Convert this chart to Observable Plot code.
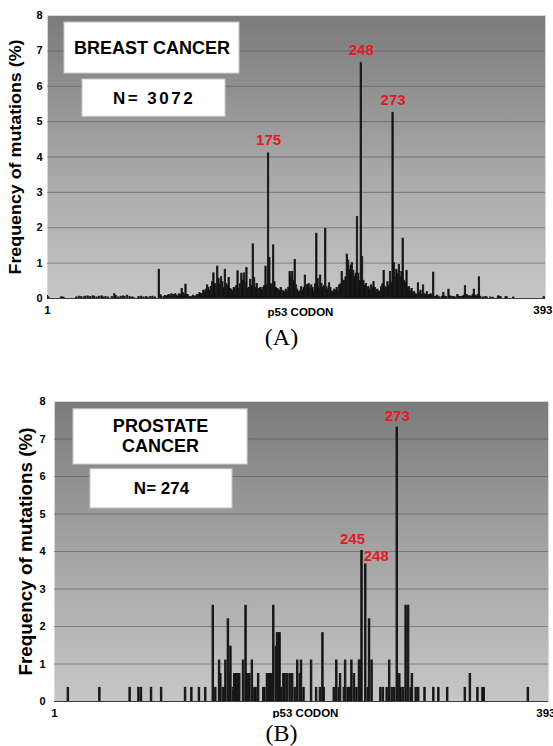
<!DOCTYPE html>
<html><head><meta charset="utf-8">
<script src="https://cdn.jsdelivr.net/npm/d3@7"></script>
<script src="https://cdn.jsdelivr.net/npm/@observablehq/plot@0.6"></script>
<style>
html,body{margin:0;padding:0;background:#fff}
body{position:relative;width:553px;height:746px;overflow:hidden;font-family:"Liberation Sans",Arial,Helvetica,sans-serif}
#a{position:absolute;left:0;top:0}
#b{position:absolute;left:0;top:380px}
.cap{position:absolute;left:0;width:563px;text-align:center;font-family:"Liberation Serif","Times New Roman",serif;font-size:24px;line-height:24px;color:#000}
#capA{top:325px}
#capB{top:721px}
svg{overflow:hidden}
</style></head><body>
<div id="a"></div><div class="cap" id="capA">(A)</div>
<div id="b"></div><div class="cap" id="capB">(B)</div>
<script>
// ---------- data ----------
// Panel A: breast cancer, frequency (%) of p53 mutations at codons 1..393 (N = 3072)
const freqA = [
  0.07,0.03,0,0,0,0,0,0,0,0,
  0,0.03,0.03,0.02,0,0,0,0,0,0,
  0,0,0,0.03,0,0.05,0,0.04,0,0.03,
  0.05,0,0.06,0,0.04,0,0.06,0.05,0,0.03,
  0,0.05,0,0.06,0.03,0,0.04,0,0.03,0,
  0,0.04,0,0.12,0.07,0,0.03,0,0.05,0,
  0.06,0.04,0,0.08,0,0.04,0,0.03,0.02,0,
  0,0,0.04,0,0.05,0,0.03,0,0.04,0.02,
  0,0.04,0,0.05,0,0.03,0,0,0.81,0.1,
  0.06,0,0.04,0.07,0.05,0.08,0.1,0.06,0.12,0.08,
  0.1,0.12,0.08,0.05,0.12,0.1,0.27,0.15,0.1,0.39,
  0.1,0.09,0.04,0.03,0.05,0.08,0.04,0.06,0.09,0.1,
  0.15,0.12,0.13,0.22,0.2,0.25,0.37,0.3,0.22,0.33,
  0.46,0.71,0.41,0.35,0.9,0.55,0.4,0.6,0.46,0.3,
  0.81,0.41,0.35,0.58,0.27,0.25,0.2,0.3,0.27,0.35,
  0.77,0.27,0.4,0.7,0.5,0.71,0.45,0.86,0.27,0.3,
  0.53,0.35,1.53,0.58,0.3,0.41,0.25,0.27,0.3,0.24,
  0.3,0.35,0.9,0.37,4.1,1.15,0.41,0.35,1.5,0.46,
  0.3,0.27,0.25,0.22,0.3,0.22,0.2,0.18,0.25,0.18,
  0.3,0.75,0.6,0.75,0.5,1.09,0.37,0.25,0.18,0.2,
  0.32,0.22,0.3,0.65,0.37,0.37,0.41,0.25,0.37,0.3,
  0.2,0.4,1.83,0.55,0.3,0.65,0.41,0.3,0.35,1.97,
  0.32,0.25,0.43,0.3,0.2,0.18,0.25,0.22,0.3,0.2,
  0.37,0.4,0.75,0.5,0.5,0.6,1.24,1.07,0.8,0.93,
  1.0,0.78,0.6,0.7,2.3,0.7,0.5,6.65,1.17,0.5,
  0.35,0.41,0.3,0.32,0.25,0.37,0.3,0.46,0.3,0.22,
  0.25,0.18,0.2,0.32,0.4,0.78,0.32,0.3,0.46,0.35,
  0.75,0.45,5.25,1.0,0.6,0.81,0.7,0.95,0.6,0.75,
  1.69,0.5,0.45,0.78,0.3,0.32,0.2,0.27,0.15,0.18,
  0.12,0.1,0.43,0.15,0.22,0.1,0.37,0.12,0.1,0.18,
  0.08,0.1,0.12,0.06,0.73,0.05,0.04,0.08,0.05,0.03,
  0,0.05,0.16,0.05,0.04,0,0.25,0.06,0.05,0.03,
  0.04,0.03,0,0.1,0.05,0.04,0.03,0.05,0.08,0.35,
  0.1,0.08,0.05,0.06,0.04,0.1,0.25,0.08,0.05,0.1,
  0.6,0.05,0,0.03,0,0.04,0.03,0,0,0.03,
  0,0.02,0,0,0,0.06,0.05,0.04,0,0,
  0,0.04,0.03,0,0,0,0,0.03,0,0,
  0,0,0,0,0,0,0,0,0,0,
  0,0,0,0,0,0,0,0,0,0,
  0,0.04,0
];
const peaksA = [175, 248, 273];

// Panel B: prostate cancer (N = 274)
const codonsB = [12,37,61,68,70,78,86,105,110,116,121,127,129,132,133,135,136,137,139,140,141,143,144,145,146,147,148,
  151,153,154,155,156,158,160,161,163,167,168,170,171,172,173,174,175,177,178,179,180,181,183,184,186,188,190,192,194,196,197,199,
  205,209,212,214,215,223,225,227,228,231,232,234,235,236,237,239,241,243,244,245,248,250,251,253,260,262,265,267,269,271,273,
  275,276,278,280,282,284,285,288,290,295,302,306,313,327,331,337,341,342,377];
const freqB = [0.36,0.36,0.36,0.36,0.36,0.36,0.36,0.36,0.36,0.36,0.36,2.55,0.36,1.09,0.73,0.36,0.36,1.09,2.19,0.73,1.46,0.36,0.73,0.73,0.73,0.73,0.73,
  1.09,2.55,0.73,0.73,0.73,1.09,0.36,0.36,0.73,0.36,0.36,0.73,0.73,0.73,0.73,0.73,2.55,1.46,1.82,1.82,1.82,0.36,0.73,0.73,0.73,0.73,0.73,0.36,1.09,0.73,1.09,0.36,
  1.09,0.36,0.36,1.82,0.36,0.36,1.09,0.36,0.73,0.36,1.09,0.36,0.36,0.36,1.09,0.73,0.36,1.09,1.09,4.01,3.65,0.36,2.19,1.09,0.36,0.36,0.36,1.09,0.36,0.36,7.30,
  0.73,0.36,0.36,2.55,2.55,0.36,0.73,0.36,0.36,0.36,0.36,0.36,0.36,0.36,0.73,0.36,0.36,0.36,0.36];

const yTicks = [0,1,2,3,4,5,6,7,8];
const gridVals = [1,2,3,4,5,6,7];
const xEnds = [1, 393];
const xTitle = "p53 CODON";
const yTitle = "Frequency of mutations (%)";
const boxA = [{label: "BREAST CANCER"}, {label: "N= 3072"}];
const boxB = [{label: "PROSTATE\nCANCER"}, {label: "N= 274"}];

// ---------- build ----------
const dataA = freqA.map((v, i) => ({codon: i + 1, freq: v})).filter(d => d.freq > 0);
const dataB = codonsB.map((c, i) => ({codon: c, freq: freqB[i]}));
const FONT = "'Liberation Sans', Arial, Helvetica, sans-serif";
const RED = "#e5191f";

function panel(o) {
  const axisTxt = {fontSize: 11.5, fontWeight: "bold", fill: "black"};
  const svg = Plot.plot({
    width: 553, height: o.height,
    marginTop: o.mt, marginBottom: o.mb, marginLeft: o.ml, marginRight: o.mr,
    style: {fontFamily: FONT, fontSize: "11px", fontWeight: "bold", background: "white", color: "black", overflow: "hidden"},
    x: {domain: [1, 393], axis: null},
    y: {domain: [0, 8], ticks: yTicks, tickSize: 0, tickPadding: o.tickPad, label: null},
    marks: [
      Plot.frame({fill: `url(#${o.grad})`, stroke: "#d8d8d8"}),
      Plot.ruleY(gridVals, {stroke: "#4a4a4a", strokeOpacity: 0.5, strokeWidth: 1}),
      // white annotation boxes
      Plot.rect([o.boxes[0]], {x1: o.b1[0], x2: o.b1[1], y1: o.b1[2], y2: o.b1[3], fill: "white", stroke: "#cfcfcf"}),
      Plot.rect([o.boxes[1]], {x1: o.b2[0], x2: o.b2[1], y1: o.b2[2], y2: o.b2[3], fill: "white", stroke: "#cfcfcf"}),
      Plot.text([o.boxes[0]], {x: (o.b1[0] + o.b1[1]) / 2, y: o.t1y, text: "label", fontSize: 18, fontWeight: "bold", lineHeight: 1.07, fill: "black"}),
      Plot.text([o.boxes[1]], {x: (o.b2[0] + o.b2[1]) / 2, y: (o.b2[2] + o.b2[3]) / 2, text: "label", fontSize: 17, fontWeight: "bold", fill: "black"}),
      // bars
      Plot.rect(o.data, {x1: d => d.codon - 0.5, x2: d => d.codon + 0.5, y1: d => 0, y2: "freq", fill: "#050505", stroke: "#1a1a1a", strokeWidth: o.barStroke, clip: true}),
      Plot.ruleY([0], {stroke: "#3c3c3c", strokeWidth: 1}),
      // axis labels
      Plot.text(xEnds.slice(0, 1), {x: d => d, text: d => String(d), frameAnchor: "bottom", dy: o.tickDy, ...axisTxt}),
      Plot.text(xEnds.slice(1), {x: d => d, text: d => String(d), frameAnchor: "bottom", textAnchor: "end", dx: 7, dy: o.tickDy, ...axisTxt}),
      Plot.text([xTitle], {frameAnchor: "bottom", dx: 4, dy: o.titleDy, ...axisTxt}),
      Plot.text([yTitle], {frameAnchor: "left", textAnchor: "middle", rotate: -90, dx: o.yTitleDx, fontSize: o.yTitleSize, fontWeight: "bold", fill: "black"}),
      ...o.labels
    ]
  });
  d3.select(svg).insert("defs", ":first-child").html(
    `<linearGradient id="${o.grad}" x1="0" y1="0" x2="0" y2="1">
       <stop offset="0" stop-color="#7b7b7b"/>
       <stop offset="0.5" stop-color="#a4a4a4"/>
       <stop offset="1" stop-color="#c6c6c6"/>
     </linearGradient>`);
  d3.select(svg).selectAll("text").filter(function() { return this.textContent === yTitle; })
    .attr("textLength", o.yTitleLen).attr("lengthAdjust", "spacingAndGlyphs");
  if (o.spacing) {
    d3.select(svg).selectAll("text").filter(function() { return this.textContent === o.spacing; })
      .style("letter-spacing", "2.5px");
  }
  return svg;
}

const lbl = {fill: RED, fontSize: 15, fontWeight: "bold"};

const svgA = panel({
  height: 322, mt: 15, mb: 24, ml: 47, mr: 8, tickPad: 5, grad: "gradA",
  data: dataA, boxes: boxA, barStroke: 0.9,
  b1: [14.4, 152.1, 6.36, 7.8], b2: [28.6, 141.1, 5.14, 6.19], t1y: 7.1,
  tickDy: 15, titleDy: 17, yTitleDx: -32, yTitleSize: 17, yTitleLen: 235,
  spacing: "N= 3072",
  labels: [
    Plot.text(dataA.filter(d => peaksA.includes(d.codon)), {x: "codon", y: "freq", text: d => String(d.codon), dy: -13, ...lbl})
  ]
});
document.getElementById("a").appendChild(svgA);

const svgB = panel({
  height: 338, mt: 21, mb: 17, ml: 54, mr: 5, tickPad: 9, grad: "gradB",
  data: dataB, boxes: boxB, barStroke: 1.2,
  b1: [16.1, 154.2, 6.32, 7.79], b2: [29.6, 142.2, 5.15, 6.19], t1y: 7.085,
  tickDy: 15, titleDy: 15, yTitleDx: -28, yTitleSize: 18.5, yTitleLen: 248,
  spacing: null,
  labels: [
    Plot.text(dataB.filter(d => d.codon === 273), {x: "codon", y: "freq", text: d => String(d.codon), dy: -12, ...lbl}),
    Plot.text(dataB.filter(d => d.codon === 245), {x: "codon", y: "freq", text: d => String(d.codon), textAnchor: "end", dx: 3, dy: -12, ...lbl}),
    Plot.text(dataB.filter(d => d.codon === 248), {x: "codon", y: "freq", text: d => String(d.codon), textAnchor: "start", dx: -2, dy: -8, ...lbl})
  ]
});
document.getElementById("b").appendChild(svgB);
</script>
</body></html>
